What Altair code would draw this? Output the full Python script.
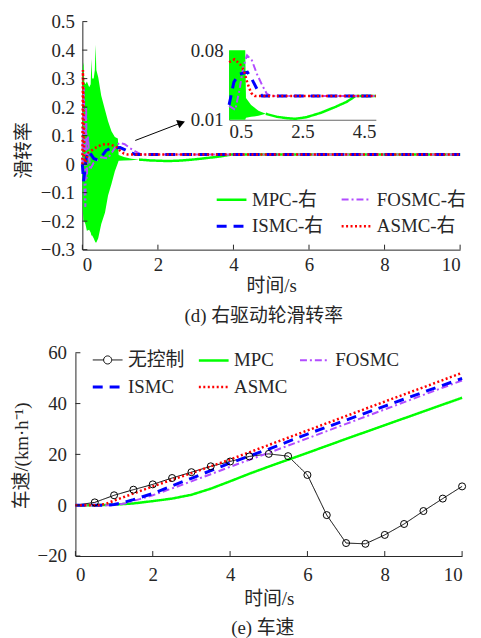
import altair as alt
import pandas as pd

FONT = "'Liberation Serif', 'Times New Roman', 'Noto Sans CJK SC', serif"
NUMFONT = "Liberation Serif"
INK = "#262626"

# ---------------- (d) right-wheel slip rate ----------------
# legend grid is filled column by column -> order chosen so rows read MPC/FOSMC, ISMC/ASMC
slip_names = ["MPC-右", "ISMC-右", "FOSMC-右", "ASMC-右"]
slip_colors = ["#00ff00", "#0000ff", "#b24cff", "#ff0000"]
slip_dash = [[1, 0], [10, 7], [7, 3, 2, 3], [2, 2.5]]
slip_width = [2.5, 3, 2, 2.5]

# MPC oscillation envelope (high-frequency chatter drawn as a band)
env_t = [0.0, 0.01, 0.03, 0.05, 0.08, 0.12, 0.18, 0.22, 0.24, 0.26, 0.3, 0.33, 0.35,
         0.37, 0.42, 0.5, 0.6, 0.68, 0.77, 0.86, 0.94, 0.96, 1.1, 1.3, 1.5]
env_hi = [0.0, 0.34, 0.357, 0.29, 0.28, 0.29, 0.27, 0.28, 0.369, 0.3, 0.3, 0.33, 0.419,
          0.33, 0.305, 0.24, 0.19, 0.15, 0.115, 0.095, 0.09, 0.032, 0.025, 0.019, 0.016]
env_lo = [0.0, -0.16, -0.199, -0.2, -0.21, -0.234, -0.23, -0.24, -0.25, -0.25, -0.26, -0.27,
          -0.275, -0.275, -0.26, -0.21, -0.17, -0.11, -0.07, -0.025, 0.004, 0.012, 0.013,
          0.014, 0.016]
mpc_t = [1.5, 1.8, 2.1, 2.3, 2.6, 3.0, 3.4, 3.7, 3.95, 10]
mpc_v = [0.016, 0.013, 0.0115, 0.011, 0.0125, 0.017, 0.023, 0.028, 0.034, 0.034]
fos_t = [0, 0.02, 0.04, 0.06, 0.08, 0.1, 0.12, 0.15, 0.2, 0.3, 0.4, 0.5, 0.67, 0.77, 0.9,
         0.99, 1.12, 1.26, 1.4, 1.53, 1.65, 10]
fos_v = [0, 0.2, 0.27, -0.1, -0.15, 0.2, -0.05, 0.1, -0.02, 0.005, 0.015, 0.024, 0.02, 0.038,
         0.065, 0.075, 0.07, 0.056, 0.045, 0.036, 0.034, 0.034]
ism_t = [0, 0.03, 0.06, 0.1, 0.15, 0.2, 0.3, 0.4, 0.5, 0.63, 0.77, 1.0, 1.12, 1.26, 1.4, 10]
ism_v = [0.0, -0.06, -0.03, 0.02, 0.045, 0.04, 0.02, 0.015, 0.025, 0.048, 0.056, 0.058, 0.051,
         0.041, 0.034, 0.034]
asm_t = [0, 0.015, 0.03, 0.05, 0.08, 0.16, 0.33, 0.5, 0.65, 0.8, 0.9, 1.0, 1.1, 1.2, 10]
asm_v = [0.0, 0.33, 0.2, 0.02, 0.005, 0.04, 0.056, 0.068, 0.071, 0.066, 0.06, 0.047, 0.037,
         0.034, 0.034]
arrow_t = [1.4, 2.62]
arrow_v = [0.083, 0.145]

x1_ticks = [0, 2, 4, 6, 8, 10]
y1_ticks = [-0.3, -0.2, -0.1, 0, 0.1, 0.2, 0.3, 0.4, 0.5]
xin_ticks = [0.5, 2.5, 4.5]
yin_ticks = [0.01, 0.08]
y1_title = ["滑转率"]

# ---------------- (e) vehicle speed ----------------
# column-major legend order -> rows read 无控制/MPC/FOSMC, ISMC/ASMC
sp_names = ["无控制", "ISMC", "MPC", "ASMC", "FOSMC"]
sp_colors = ["#000000", "#0000ff", "#00ff00", "#ff0000", "#b24cff"]
sp_dash = [[1, 0], [10, 7], [1, 0], [2, 2.5], [7, 3, 2, 3]]
sp_width = [1, 3, 2.5, 2.5, 2]

nc_t = [0, 0.5, 1, 1.5, 2, 2.5, 3, 3.5, 4, 4.5, 5, 5.5, 6, 6.5, 7, 7.5, 8, 8.5, 9, 9.5, 10]
nc_v = [0, 1.1, 3.9, 6.1, 8.2, 10.7, 13.0, 15.3, 17.2, 19.2, 20.2, 19.3, 11.9, -3.9, -14.9,
        -15.2, -11.7, -7.4, -2.3, 2.6, 7.4]
mpc2_t = [0, 0.5, 1, 1.5, 2, 2.5, 3, 3.5, 4, 4.5, 5, 5.5, 6, 7, 8, 9, 10]
mpc2_v = [0, 0, 0.2, 0.7, 1.6, 2.6, 4.1, 6.5, 9.4, 12.4, 15.2, 17.9, 20.6, 26.1, 31.5, 36.9, 42.3]
fos2_t = [0, 1.0, 1.3, 1.66, 2, 2.5, 3, 3.5, 4, 4.5, 5, 6, 7, 8, 9, 10]
fos2_v = [0, 0, 0.8, 2.4, 3.9, 6.6, 9.4, 12.2, 15.1, 17.9, 20.6, 26.3, 32.0, 37.7, 43.4, 49.1]
ism2_t = [0, 0.8, 1.0, 1.25, 1.5, 2, 2.5, 3, 3.5, 4, 5, 6, 7, 8, 9, 10]
ism2_v = [0, 0, 0.3, 1.1, 2.2, 4.6, 7.6, 10.6, 13.6, 16.6, 22.1, 28.0, 33.5, 39.0, 44.5, 49.9]
asm2_t = [0, 0.6, 0.8, 1.0, 1.5, 2, 2.5, 3, 3.5, 4, 5, 6, 7, 8, 9, 10]
asm2_v = [0, 0, 0.6, 1.8, 4.6, 7.4, 10.0, 12.6, 15.3, 18.0, 23.7, 29.4, 35.1, 40.8, 46.4, 52.1]

x2_ticks = [0, 2, 4, 6, 8, 10]
y2_ticks = [-20, 0, 20, 40, 60]
y2_title = ["车速/(km·h⁻¹)"]


def long_df(names, ts, vs):
    rows = []
    for n, tt, vv in zip(names, ts, vs):
        for a, b in zip(tt, vv):
            rows.append({"series": n, "t": a, "v": b})
    return pd.DataFrame(rows)


slip_df = long_df(["MPC-右", "FOSMC-右", "ISMC-右", "ASMC-右"],
                  [mpc_t, fos_t, ism_t, asm_t], [mpc_v, fos_v, ism_v, asm_v])
env_df = pd.DataFrame({"t": env_t, "lo": env_lo, "hi": env_hi})
arrow_df = pd.DataFrame({"t": arrow_t, "v": arrow_v})
sp_df = long_df(["无控制", "MPC", "FOSMC", "ISMC", "ASMC"],
                [nc_t, mpc2_t, fos2_t, ism2_t, asm2_t],
                [nc_v, mpc2_v, fos2_v, ism2_v, asm2_v])

W1, H1 = 388, 230   # top plot area starts 7px left of its axis so both panels line up
X0 = 7
W2, H2 = 390, 205

axis_common = dict(grid=False, tickSize=0, domainColor=INK, labelColor=INK, titleColor=INK,
                   labelFont=NUMFONT, titleFont=FONT, labelFontSize=19, titleFontSize=19,
                   titleFontWeight="normal")

xs1 = alt.Scale(domain=[0, 10], range=[X0, W1], nice=False)
ys1 = alt.Scale(domain=[-0.3, 0.5], nice=False)
ax1 = alt.Axis(values=x1_ticks, title="时间/s", labelPadding=6, titlePadding=2, **axis_common)
ay1 = alt.Axis(values=y1_ticks, title=None, labelPadding=8, offset=-X0,
               labelExpr="datum.value == 0 ? '0' : format(datum.value, '.1f')", **axis_common)


def X1(f):
    return alt.X(f"{f}:Q", scale=xs1, axis=ax1)


def Y1(f):
    return alt.Y(f"{f}:Q", scale=ys1, axis=ay1)


def series_enc(names, colors, dashes, widths, legend):
    return dict(
        color=alt.Color("series:N", scale=alt.Scale(domain=names, range=colors), legend=legend),
        strokeDash=alt.StrokeDash("series:N", scale=alt.Scale(domain=names, range=dashes),
                                  legend=legend),
        strokeWidth=alt.StrokeWidth("series:N",
                                    scale=alt.Scale(type="ordinal", domain=names, range=widths),
                                    legend=legend),
    )


leg1 = alt.Legend(title=None, orient="none", legendX=141, legendY=163, columns=2,
                  gridAlign="each", symbolType="stroke", symbolSize=900, labelFont=FONT,
                  labelFontSize=19, labelColor=INK, columnPadding=13, rowPadding=-5, padding=0,
                  labelOffset=4)
enc1 = series_enc(slip_names, slip_colors, slip_dash, slip_width, leg1)

band = alt.Chart(env_df).mark_area(color="#00ff00", opacity=1).encode(
    x=X1("t"), y=Y1("lo"), y2="hi")
lines1 = alt.Chart(slip_df).mark_line().encode(x=X1("t"), y=Y1("v"), **enc1)
xtk1 = alt.Chart(pd.DataFrame({"t": x1_ticks})).mark_rule(color=INK).encode(
    x=X1("t"), y=alt.value(H1), y2=alt.value(H1 - 5))
ytk1 = alt.Chart(pd.DataFrame({"v": y1_ticks})).mark_rule(color=INK).encode(
    y=Y1("v"), x=alt.value(X0), x2=alt.value(X0 + 5))
arrow = alt.Chart(arrow_df).mark_line(color="black", strokeWidth=1).encode(x=X1("t"), y=Y1("v"))
head = alt.Chart(arrow_df).transform_filter("datum.t > 2").mark_point(
    shape="triangle-right", filled=True, size=80, angle=339, color="black", opacity=1).encode(
    x=X1("t"), y=Y1("v"))
ytitle1 = alt.Chart(pd.DataFrame({"label": y1_title})).mark_text(
    angle=270, font=FONT, fontSize=19, color=INK, align="center", baseline="middle").encode(
    text="label:N", x=alt.value(-52), y=alt.value(130))
main1 = alt.layer(band, lines1, xtk1, ytk1, arrow, head, ytitle1)

# inset (zoomed view of 0.5-4.5 s)
xs_in = alt.Scale(domain=[0.5, 4.5], range=[155, 303], clamp=True, nice=False)
ys_in = alt.Scale(domain=[0.01, 0.08], range=[99, 29], clamp=True, nice=False)
in_common = dict(axis_common)
in_common["domainColor"] = "#666666"
ax_in = alt.Axis(orient="bottom", offset=-131, values=xin_ticks, format=".1f", title=None,
                 labelPadding=3, **in_common)
ay_in = alt.Axis(orient="left", offset=-155, values=yin_ticks, format=".2f", title=None,
                 labelPadding=6, **in_common)


def XI(f):
    return alt.X(f"{f}:Q", scale=xs_in, axis=ax_in)


def YI(f):
    return alt.Y(f"{f}:Q", scale=ys_in, axis=ay_in)


band_in = alt.Chart(env_df).transform_filter("datum.t >= 0.5").mark_area(
    color="#00ff00", opacity=1).encode(x=XI("t"), y=YI("lo"), y2="hi")
lines_in = alt.Chart(slip_df).transform_filter("datum.t >= 0.5").mark_line().encode(
    x=XI("t"), y=YI("v"), **enc1)
inset = alt.layer(band_in, lines_in)

top = alt.layer(main1, inset).resolve_scale(x="independent", y="independent").properties(
    width=W1, height=H1,
    title=alt.TitleParams("(d)  右驱动轮滑转率", orient="bottom", font=FONT, fontSize=19,
                          fontWeight="normal", color=INK, offset=12, dx=-4))

# ---------------- bottom panel ----------------
xs2 = alt.Scale(domain=[0, 10], nice=False)
ys2 = alt.Scale(domain=[-20, 60], nice=False)
ax2 = alt.Axis(values=x2_ticks, title="时间/s", labelPadding=10, titlePadding=5, **axis_common)
ay2 = alt.Axis(values=y2_ticks, title=None, labelPadding=9, **axis_common)


def X2(f):
    return alt.X(f"{f}:Q", scale=xs2, axis=ax2)


def Y2(f):
    return alt.Y(f"{f}:Q", scale=ys2, axis=ay2)


circ = "M-1,0H-0.27M0.27,0H1M-0.27,0A0.27,0.27,0,1,1,0.27,0A0.27,0.27,0,1,1,-0.27,0"
sp_shapes = [circ if n == "无控制" else "stroke" for n in sp_names]
leg2 = alt.Legend(title=None, orient="none", legendX=16, legendY=-9, columns=3,
                  gridAlign="each", symbolSize=900, labelFont=FONT, labelFontSize=19,
                  symbolOpacity=1, symbolFillColor="transparent",
                  labelColor=INK, columnPadding=8, rowPadding=-7, padding=0, labelOffset=4)
enc2 = series_enc(sp_names, sp_colors, sp_dash, sp_width, leg2)

lines2 = alt.Chart(sp_df).mark_line().encode(x=X2("t"), y=Y2("v"), **enc2)
# invisible point layer that only provides legend symbol shapes
legpts = alt.Chart(sp_df).mark_point(filled=False, opacity=0).encode(
    x=X2("t"), y=Y2("v"),
    shape=alt.Shape("series:N", scale=alt.Scale(domain=sp_names, range=sp_shapes), legend=leg2),
    **enc2)
marks2 = alt.Chart(sp_df).transform_filter("datum.series == '无控制' && datum.t > 0").mark_point(
    filled=False, color="black", size=50, strokeWidth=1, opacity=1).encode(x=X2("t"), y=Y2("v"))
xtk2 = alt.Chart(pd.DataFrame({"t": x2_ticks})).mark_rule(color=INK).encode(
    x=X2("t"), y=alt.value(H2), y2=alt.value(H2 - 5))
ytk2 = alt.Chart(pd.DataFrame({"v": y2_ticks})).mark_rule(color=INK).encode(
    y=Y2("v"), x=alt.value(0), x2=alt.value(5))
ytitle2 = alt.Chart(pd.DataFrame({"label": y2_title})).mark_text(
    angle=270, font=FONT, fontSize=19, color=INK, align="center", baseline="middle").encode(
    text="label:N", x=alt.value(-54), y=alt.value(104))

bottom = alt.layer(lines2, legpts, marks2, xtk2, ytk2, ytitle2).properties(
    width=W2, height=H2,
    title=alt.TitleParams("(e)  车速", orient="bottom", font=FONT, fontSize=19,
                          fontWeight="normal", color=INK, offset=11, dx=-6))

chart = alt.vconcat(top, bottom, spacing=18).resolve_scale(
    color="independent", strokeDash="independent", strokeWidth="independent",
    shape="independent", x="independent", y="independent").properties(
    padding={"left": 5, "top": 2, "right": 5, "bottom": 0}
).configure(font=FONT).configure_view(stroke=None)

chart.save("out.html", embed_options={"renderer": "svg", "actions": False})
